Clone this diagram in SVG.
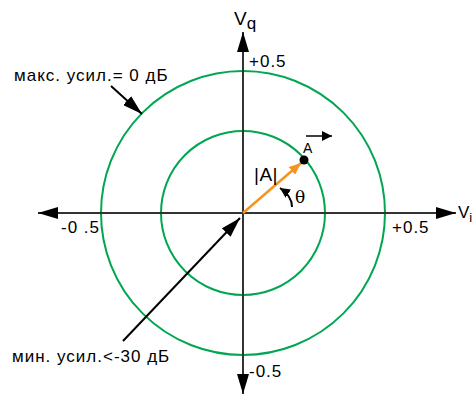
<svg xmlns="http://www.w3.org/2000/svg" width="473" height="397" viewBox="0 0 473 397">
<defs>
<marker id="ahb" viewBox="0 0 20 12" refX="20" refY="6" markerWidth="20" markerHeight="12" markerUnits="userSpaceOnUse" orient="auto"><path d="M0,0 L20,6 L0,12 z" fill="#000"/></marker>
<marker id="aho" viewBox="0 0 12 10" refX="12" refY="5" markerWidth="12" markerHeight="10" markerUnits="userSpaceOnUse" orient="auto"><path d="M0,0 L12,5 L0,10 z" fill="#f7931e"/></marker>
<marker id="ahs" viewBox="0 0 10 10" refX="10" refY="5" markerWidth="10" markerHeight="10" markerUnits="userSpaceOnUse" orient="auto"><path d="M0,0 L10,5 L0,10 z" fill="#000"/></marker>
</defs>
<style>
.t{font-family:"Liberation Sans",Arial,sans-serif;font-size:17px;letter-spacing:1px;fill:#000}
.circ{fill:none;stroke:#00a651;stroke-width:2}
.ax{stroke:#333;stroke-width:2;fill:none}
.ptr{stroke:#000;stroke-width:2;fill:none}
</style>
<g id="circles">
<circle id="outer" class="circ" cx="243" cy="213" r="142"/>
<circle id="inner" class="circ" cx="243" cy="213" r="82"/>
</g>
<g id="connectors">
<line class="ax" x1="243" y1="213" x2="456" y2="213" marker-end="url(#ahb)"/>
<line class="ax" x1="243" y1="213" x2="38" y2="213" marker-end="url(#ahb)"/>
<line class="ax" x1="243" y1="213" x2="243" y2="32" marker-end="url(#ahb)"/>
<line class="ax" x1="243" y1="213" x2="243" y2="394" marker-end="url(#ahb)"/>
<line class="ptr" x1="111" y1="86" x2="142" y2="114" marker-end="url(#ahb)"/>
<line class="ptr" x1="123" y1="341" x2="240" y2="218" marker-end="url(#ahb)"/>
<line stroke="#f7931e" stroke-width="2.5" x1="243" y1="213" x2="301" y2="163" marker-end="url(#aho)"/>
<path class="ptr" d="M292,207 Q292,196 280,188" marker-end="url(#ahs)"/>
<line stroke="#000" stroke-width="1.5" x1="306" y1="136" x2="332" y2="136" marker-end="url(#ahs)"/>
</g>
<g id="point"><circle cx="304" cy="160" r="4.5" fill="#000"/></g>
<g id="labels">
<text class="t" x="234" y="25" style="font-size:19px;letter-spacing:0">V<tspan dy="4" style="font-size:17px">q</tspan></text>
<text class="t" x="249" y="67">+0.5</text>
<text class="t" x="14" y="81">макс. усил.= 0 дБ</text>
<text class="t" x="61" y="233">-0 .5</text>
<text class="t" x="392" y="233">+0.5</text>
<text class="t" x="458" y="218" style="font-size:17px;letter-spacing:0">V<tspan dy="4" style="font-size:13px">i</tspan></text>
<text class="t" x="249" y="377">-0.5</text>
<text class="t" x="12" y="362">мин. усил.&lt;-30 дБ</text>
<text class="t" x="254" y="181" style="font-size:19px;letter-spacing:0.5px">|A|</text>
<text class="t" x="303" y="153" style="font-size:14px;letter-spacing:0">A</text>
<text x="295" y="203" style="font-family:'DejaVu Serif','Liberation Serif',serif;font-size:17px">θ</text>
</g>
</svg>
